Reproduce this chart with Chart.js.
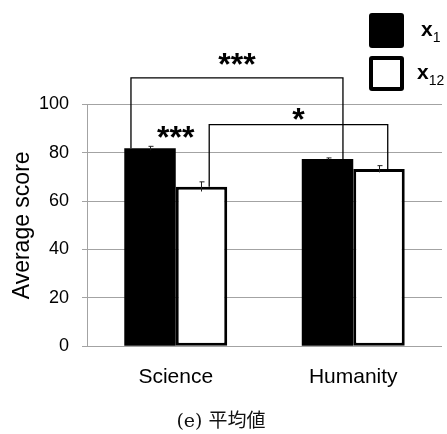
<!DOCTYPE html>
<html>
<head>
<meta charset="utf-8">
<script src="https://cdn.jsdelivr.net/npm/chart.js@4.4.1/dist/chart.umd.min.js"></script>
<style>
  html, body { margin: 0; padding: 0; background: #fff; }
  #wrap { position: relative; width: 447px; height: 434px; }
</style>
</head>
<body>
<div id="wrap"><canvas id="chart"></canvas></div>
<script>
// data
const categories = ["Science", "Humanity"];
const seriesNames = ["x1", "x12"];
const x1Scores = [81.9, 77.5];
const x12Scores = [66.0, 73.3];
const x1Errors = [0.8, 0.4];
const x12Errors = [2.0, 1.4];
const yTicks = [0, 20, 40, 60, 80, 100];
const caption = "(e) 平均値";

// significance marks: bracket between two bars, or a lone label over a category
const bracketFrom = [[0, 0], [1, 0]]; // [series, category]
const bracketTo = [[0, 1], [1, 1]];
const bracketLevel = [111, 91.7];
const bracketLabel = ["***", "*"];
const bracketLabelLevel = [116, 93];
const loneLabel = ["***"];
const loneCategory = [0];
const loneLabelLevel = [85.5];

const sans = '"Liberation Sans", Arial, sans-serif';

// draws error bars, brackets, stars and the legend
const annotate = {
  id: "annotate",
  afterDatasetsDraw(chart, args, opts) {
    const ctx = chart.ctx;
    const ys = chart.scales.y;
    const barAt = (s, c) => chart.getDatasetMeta(s).data[c];

    ctx.save();
    // error bars
    chart.data.datasets.forEach((ds, di) => {
      chart.getDatasetMeta(di).data.forEach((bar, i) => {
        const v = ds.data[i], e = ds.errors[i];
        const x = Math.round(bar.x) + 0.5;
        const y0 = ys.getPixelForValue(v - e), y1 = ys.getPixelForValue(v + e);
        ctx.strokeStyle = "#222";
        ctx.lineWidth = 1;
        ctx.beginPath();
        ctx.moveTo(x, y0); ctx.lineTo(x, y1);
        ctx.moveTo(x - 2, y1); ctx.lineTo(x + 3, y1);
        ctx.stroke();
      });
    });

    // brackets
    ctx.strokeStyle = "#000";
    ctx.lineWidth = 1.3;
    ctx.fillStyle = "#000";
    ctx.font = "bold 32px " + sans;
    ctx.textAlign = "center";
    ctx.textBaseline = "middle";
    bracketLevel.forEach((lvl, k) => {
      const [s0, c0] = bracketFrom[k], [s1, c1] = bracketTo[k];
      const b0 = barAt(s0, c0), b1 = barAt(s1, c1);
      const x0 = b0.x + b0.width * opts.fromShift[k];
      const x1 = b1.x + b1.width * opts.toShift[k];
      const yl = ys.getPixelForValue(lvl);
      const yb0 = ys.getPixelForValue(chart.data.datasets[s0].data[c0]);
      const yb1 = ys.getPixelForValue(chart.data.datasets[s1].data[c1]);
      ctx.beginPath();
      ctx.moveTo(x0, yb0); ctx.lineTo(x0, yl); ctx.lineTo(x1, yl); ctx.lineTo(x1, yb1);
      ctx.stroke();
      ctx.fillText(bracketLabel[k], (x0 + x1) / 2, ys.getPixelForValue(bracketLabelLevel[k]));
    });
    loneLabel.forEach((lab, k) => {
      const xc = chart.scales.x.getPixelForValue(loneCategory[k]);
      ctx.fillText(lab, xc, ys.getPixelForValue(loneLabelLevel[k]));
    });

    // legend: big swatches with subscripted names
    chart.data.datasets.forEach((ds, di) => {
      const bx = opts.legendX, by = opts.legendY + di * opts.legendStep, sz = opts.box;
      ctx.fillStyle = "#000";
      ctx.beginPath();
      ctx.roundRect(bx, by, sz, sz, 3);
      ctx.fill();
      if (ds.backgroundColor !== "#000") {
        ctx.fillStyle = ds.backgroundColor;
        ctx.fillRect(bx + 4, by + 4, sz - 8, sz - 8);
      }

      const name = ds.label;
      ctx.fillStyle = "#000";
      ctx.textAlign = "left";
      ctx.textBaseline = "alphabetic";
      ctx.font = "bold 21px " + sans;
      const tx = bx + sz + opts.textGap - (name.length - 2) * 4;
      const ty = by + sz * 0.65;
      ctx.fillText(name[0], tx, ty);
      const w = ctx.measureText(name[0]).width;
      ctx.font = "14px " + sans;
      ctx.fillText(name.slice(1), tx + w, ty + 6);
    });
    ctx.restore();
  }
};

new Chart(document.getElementById("chart"), {
  type: "bar",
  data: {
    labels: categories,
    datasets: [
      {
        label: seriesNames[0],
        data: x1Scores,
        errors: x1Errors,
        backgroundColor: "#000",
        borderWidth: 0,
      },
      {
        label: seriesNames[1],
        data: x12Scores,
        errors: x12Errors,
        backgroundColor: "#fff",
        borderColor: "#000",
        borderWidth: 3,
        borderSkipped: false,
      },
    ],
  },
  options: {
    responsive: true,
    maintainAspectRatio: false,
    animation: false,
    layout: { padding: { top: 104.5, right: 5, left: 0, bottom: 0 } },
    datasets: { bar: { barPercentage: 1.0, categoryPercentage: 0.58 } },
    plugins: {
      legend: { display: false },
      tooltip: { enabled: false },
      title: {
        display: true,
        position: "bottom",
        text: caption,
        color: "#111",
        font: { family: '"DejaVu Serif", "Noto Sans CJK JP", serif', size: 19, weight: "normal" },
        padding: { top: 0, bottom: 1 },
      },
      annotate: {
        fromShift: [-0.37, 0.15],
        toShift: [0.3, 0.17],
        legendX: 369,
        legendY: 13,
        legendStep: 43,
        box: 35,
        textGap: 17,
      },
    },
    scales: {
      x: {
        grid: { display: false, drawTicks: false },
        border: { display: false },
        ticks: { color: "#000", padding: 18, font: { family: sans, size: 21 } },
        afterFit: (scale) => { scale.height = 64; },
      },
      y: {
        min: 0,
        max: 100,
        afterBuildTicks: (scale) => { scale.ticks = yTicks.map((v) => ({ value: v })); },
        grid: { color: "#a3a3a3", lineWidth: 1, tickLength: 5 },
        border: { display: true, color: "#a3a3a3" },
        ticks: { color: "#000", padding: 13, font: { family: sans, size: 18 } },
        title: {
          display: true,
          text: "Average score",
          color: "#000",
          font: { family: sans, size: 23 },
          padding: { top: 9, bottom: 0 },
        },
        afterFit: (scale) => { scale.width = 87; },
      },
    },
  },
  plugins: [annotate],
});
</script>
</body>
</html>
